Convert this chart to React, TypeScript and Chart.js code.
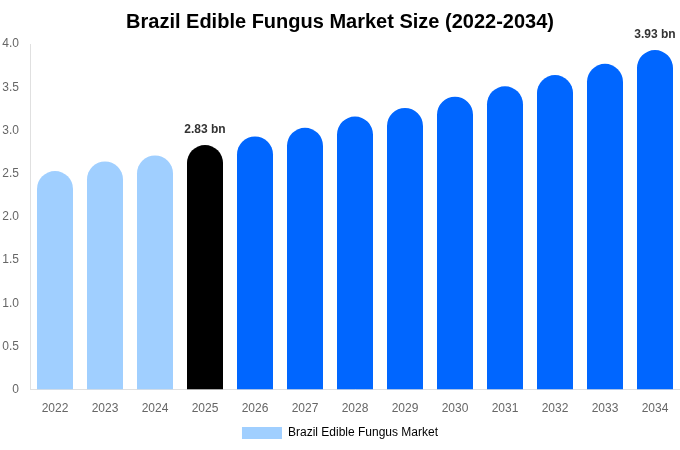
import React, { useEffect, useRef } from "react";
import { Chart, registerables } from "chart.js";

Chart.register(...registerables);

const categories = ["2022", "2023", "2024", "2025", "2026", "2027", "2028", "2029", "2030", "2031", "2032", "2033", "2034"];
const marketValues = [2.53, 2.64, 2.71, 2.83, 2.93, 3.03, 3.16, 3.26, 3.39, 3.51, 3.64, 3.77, 3.93];
const barColors = ["#a0cfff", "#a0cfff", "#a0cfff", "#000000", "#0066ff", "#0066ff", "#0066ff", "#0066ff", "#0066ff", "#0066ff", "#0066ff", "#0066ff", "#0066ff"];
const labelledIndexes = [3, 12];
const seriesName = "Brazil Edible Fungus Market";
const titleText = "Brazil Edible Fungus Market Size (2022-2034)";

const valueLabelPlugin = {
  id: "valueLabels",
  afterDatasetsDraw(chart: any) {
    const ctx = chart.ctx;
    const meta = chart.getDatasetMeta(0);
    ctx.save();
    ctx.font = "bold 12px 'Liberation Sans', Arial, sans-serif";
    ctx.fillStyle = "#333333";
    ctx.textAlign = "center";
    ctx.textBaseline = "bottom";
    labelledIndexes.forEach((i) => {
      const el = meta.data[i];
      if (!el) return;
      ctx.fillText(marketValues[i].toFixed(2) + " bn", el.x, el.y - 9);
    });
    ctx.restore();
  },
};

export default function App() {
  const ref = useRef<HTMLCanvasElement | null>(null);
  useEffect(() => {
    if (!ref.current) return;
    const chart = new Chart(ref.current, {
      type: "bar",
      data: {
        labels: categories,
        datasets: [
          {
            label: seriesName,
            data: marketValues,
            backgroundColor: barColors,
            borderRadius: 100,
            borderSkipped: "start",
          },
        ],
      },
      options: {
        animation: false,
        responsive: true,
        maintainAspectRatio: false,
        layout: { padding: { left: 0, right: 0, top: 0, bottom: 1 } },
        plugins: {
          title: {
            display: true,
            text: titleText,
            color: "#000000",
            font: { family: "'Liberation Sans', Arial, sans-serif", size: 20, weight: "bold" },
            padding: { top: 10, bottom: 10 },
          },
          legend: {
            display: true,
            position: "bottom",
            labels: {
              color: "#666666",
              font: { family: "'Liberation Sans', Arial, sans-serif", size: 12 },
              boxWidth: 40,
              boxHeight: 12,
              padding: 7,
              generateLabels: () => [
                { text: seriesName, fillStyle: "#a0cfff", strokeStyle: "#a0cfff", lineWidth: 0, hidden: false, datasetIndex: 0 } as any,
              ],
            },
          },
          tooltip: { enabled: false },
        },
        scales: {
          x: {
            grid: { display: false },
            border: { display: true, color: "#e0e0e0" },
            ticks: { color: "#666666", font: { family: "'Liberation Sans', Arial, sans-serif", size: 12 }, padding: 4 },
          },
          y: {
            min: 0,
            max: 4,
            grid: { display: false },
            border: { display: true, color: "#e0e0e0" },
            ticks: { stepSize: 0.5, color: "#666666", font: { family: "'Liberation Sans', Arial, sans-serif", size: 12 }, padding: 3 },
            afterFit: (scale: any) => {
              scale.width = 30;
            },
          },
        },
      },
      plugins: [valueLabelPlugin],
    });
    return () => chart.destroy();
  }, []);
  return (
    <div style={{ position: "fixed", left: 0, top: 0, width: 680, height: 450, background: "#ffffff" }}>
      <canvas ref={ref} />
    </div>
  );
}
